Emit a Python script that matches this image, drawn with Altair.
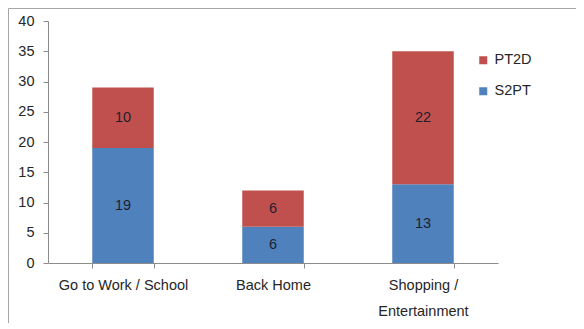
import altair as alt
import pandas as pd

categories = ["Go to Work / School", "Back Home", "Shopping / Entertainment"]
s2pt = [19, 6, 13]
pt2d = [10, 6, 22]
series = ["PT2D", "S2PT"]
colors = ["#C0504D", "#4F81BD"]
y_ticks = [0, 5, 10, 15, 20, 25, 30, 35, 40]

rows = []
for c, a, b in zip(categories, s2pt, pt2d):
    rows.append({"cat": c, "series": "S2PT", "value": a, "ord": 0})
    rows.append({"cat": c, "series": "PT2D", "value": b, "ord": 1})
df = pd.DataFrame(rows)

FONT = "Liberation Sans"
FS = 14.5

x_axis = alt.Axis(
    title=None,
    labelAngle=0,
    tickBand="extent",
    tickSize=5,
    labelPadding=10,
    labelFontSize=FS,
    labelFont=FONT,
    labelColor="#262626",
    labelLineHeight=26,
    labelExpr="datum.label == 'Shopping / Entertainment' ? ['Shopping /', 'Entertainment'] : datum.label",
    domainColor="#8c8c8c",
    tickColor="#8c8c8c",
)
x_scale = alt.Scale(paddingInner=0.59, paddingOuter=0.295)

y_axis = alt.Axis(
    title=None,
    values=y_ticks,
    grid=False,
    tickSize=5,
    labelPadding=9,
    labelOverlap=False,
    labelFontSize=FS,
    labelFont=FONT,
    labelColor="#262626",
    domainColor="#8c8c8c",
    tickColor="#8c8c8c",
)
y_scale = alt.Scale(domain=[0, 40])

base = alt.Chart(df).transform_stack(
    stack="value", groupby=["cat"], as_=["y0", "y1"], sort=[alt.SortField("ord", order="ascending")]
).transform_calculate(mid="(datum.y0 + datum.y1) / 2")

bars = base.mark_bar().encode(
    x=alt.X("cat:N", sort=categories, scale=x_scale, axis=x_axis),
    y=alt.Y("y0:Q", scale=y_scale, axis=y_axis),
    y2="y1:Q",
    color=alt.Color(
        "series:N",
        scale=alt.Scale(domain=series, range=colors),
        legend=alt.Legend(
            title=None,
            orient="none",
            legendX=428,
            legendY=32,
            symbolType="square",
            symbolSize=64,
            symbolStrokeWidth=0,
            labelFontSize=FS,
            labelFont=FONT,
            labelColor="#262626",
            rowPadding=16,
            labelOffset=4,
            padding=0,
        ),
    ),
)

labels = base.mark_text(font=FONT, fontSize=FS, color="#1f1f2f").encode(
    x=alt.X("cat:N", sort=categories, scale=x_scale, axis=x_axis),
    y=alt.Y("mid:Q", scale=y_scale, axis=y_axis),
    text=alt.Text("value:Q"),
)

border = alt.Chart(pd.DataFrame({"a": [0]})).mark_rect(
    fill="transparent", stroke="#a6a6a6", strokeWidth=1
).encode(
    x=alt.value(-39.5), x2=alt.value(560), y=alt.value(-12.5), y2=alt.value(400)
)

chart = alt.layer(border, bars, labels).properties(
    width=450,
    height=242,
    autosize=alt.AutoSizeParams(type="none"),
    padding={"left": 40, "top": 13, "right": 78, "bottom": 60},
).configure_view(stroke=None)

chart.save("out.html", embed_options={"renderer": "svg", "actions": False})
